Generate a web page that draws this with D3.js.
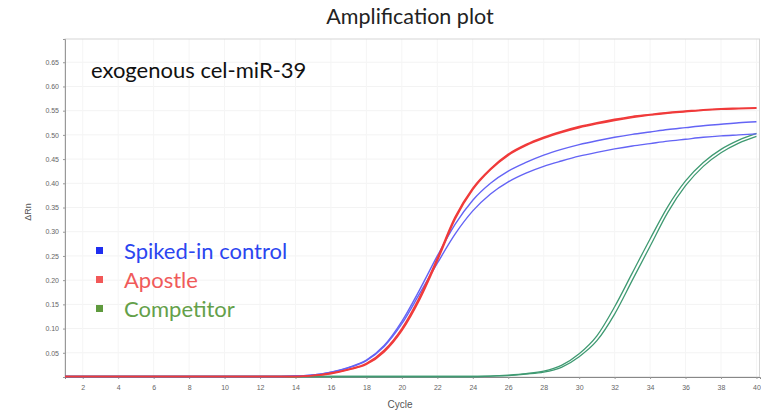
<!DOCTYPE html>
<html>
<head>
<meta charset="utf-8">
<script src="https://cdn.jsdelivr.net/npm/d3@7"></script>
<style>
  body { margin: 0; background: #fff; }
  svg { display: block; font-family: Lato, "Open Sans", sans-serif; }
  .tick text { fill: #666; font-size: 7px; font-family: "Liberation Sans", Arial, sans-serif; }
</style>
</head>
<body>
<svg id="chart" width="761" height="414"></svg>
<script>
const cycles = d3.range(1, 41);

// ΔRn per cycle (two replicates per sample)
const spikedA = [0.001,0.001,0.001,0.001,0.001,0.001,0.001,0.001,0.001,0.001,0.001,0.001,0.001,0.002,0.004,0.010,0.020,0.035,0.065,0.115,0.180,0.250,0.315,0.365,0.400,0.425,0.443,0.458,0.470,0.480,0.488,0.495,0.501,0.506,0.511,0.515,0.519,0.522,0.525,0.527];
const spikedB = [0.001,0.001,0.001,0.001,0.001,0.001,0.001,0.001,0.001,0.001,0.001,0.001,0.001,0.002,0.004,0.010,0.019,0.034,0.063,0.110,0.172,0.235,0.295,0.343,0.378,0.403,0.421,0.435,0.446,0.456,0.464,0.471,0.477,0.482,0.487,0.491,0.495,0.498,0.500,0.502];
const apostleA = [0.001,0.001,0.001,0.001,0.001,0.001,0.001,0.001,0.001,0.001,0.001,0.001,0.001,0.001,0.003,0.008,0.016,0.028,0.055,0.100,0.165,0.245,0.330,0.390,0.430,0.460,0.480,0.495,0.507,0.517,0.525,0.532,0.538,0.542,0.546,0.549,0.552,0.554,0.555,0.556];
const apostleB = [0.001,0.001,0.001,0.001,0.001,0.001,0.001,0.001,0.001,0.001,0.001,0.001,0.001,0.001,0.003,0.007,0.015,0.026,0.052,0.096,0.160,0.240,0.326,0.387,0.428,0.458,0.478,0.493,0.505,0.515,0.523,0.530,0.536,0.541,0.545,0.548,0.551,0.553,0.554,0.555];
const competitorA = [0.001,0.001,0.001,0.001,0.001,0.001,0.001,0.001,0.001,0.001,0.001,0.001,0.001,0.001,0.001,0.001,0.001,0.001,0.001,0.001,0.001,0.001,0.001,0.001,0.002,0.003,0.006,0.010,0.020,0.042,0.075,0.130,0.200,0.270,0.340,0.395,0.435,0.463,0.483,0.497];
const competitorB = [0.001,0.001,0.001,0.001,0.001,0.001,0.001,0.001,0.001,0.001,0.001,0.001,0.001,0.001,0.001,0.001,0.001,0.001,0.001,0.001,0.001,0.001,0.001,0.001,0.002,0.004,0.007,0.012,0.024,0.048,0.085,0.145,0.215,0.285,0.352,0.405,0.443,0.470,0.489,0.503];

const series = [
  { name: "Competitor", color: "#3f9a72", values: competitorA, width: 1.3 },
  { name: "Competitor", color: "#3f9a72", values: competitorB, width: 1.3 },
  { name: "Spiked-in control", color: "#6464f5", values: spikedA, width: 1.4 },
  { name: "Spiked-in control", color: "#6464f5", values: spikedB, width: 1.4 },
  { name: "Apostle", color: "#f03a3a", values: apostleA, width: 1.6 },
  { name: "Apostle", color: "#f03a3a", values: apostleB, width: 1.6 }
];

const legendItems = [
  { label: "Spiked-in control", swatch: "#1f2ef0", text: "#2b45f0" },
  { label: "Apostle", swatch: "#f25858", text: "#f05a5a" },
  { label: "Competitor", swatch: "#5f9a3e", text: "#64a04a" }
];

const xTicks = d3.range(2, 41, 2);
const yTicks = d3.range(1, 14).map(i => +(i * 0.05).toFixed(2));

const margin = { top: 39, right: 1, bottom: 37, left: 65 };
const width = 761, height = 414;

const svg = d3.select("#chart");

const x = d3.scaleLinear().domain([1, 40.2]).range([margin.left, width - margin.right]);
const y = d3.scaleLinear().domain([0, 0.698]).range([height - margin.bottom, margin.top]);

// faint grid
svg.append("g")
  .selectAll("line")
  .data(yTicks)
  .join("line")
  .attr("x1", margin.left).attr("x2", width - margin.right)
  .attr("y1", d => y(d)).attr("y2", d => y(d))
  .attr("stroke", "#f3f3f3");
svg.append("g")
  .selectAll("line")
  .data(xTicks)
  .join("line")
  .attr("y1", margin.top).attr("y2", height - margin.bottom)
  .attr("x1", d => x(d)).attr("x2", d => x(d))
  .attr("stroke", "#f5f5f5");

// frame
svg.append("rect")
  .attr("x", margin.left).attr("y", margin.top)
  .attr("width", width - margin.right - margin.left - 0.5)
  .attr("height", height - margin.bottom - margin.top)
  .attr("fill", "none").attr("stroke", "#d6d6d6");

const yAxis = svg.append("g")
  .attr("transform", `translate(${margin.left},0)`)
  .call(d3.axisLeft(y).tickValues(yTicks).tickFormat(d3.format(".2f")).tickSize(2).tickPadding(4));
yAxis.select(".domain").attr("stroke", "#999");
yAxis.selectAll(".tick line").attr("stroke", "#999");

const xAxis = svg.append("g")
  .attr("transform", `translate(0,${height - margin.bottom})`)
  .call(d3.axisBottom(x).tickValues(xTicks).tickSize(2).tickPadding(6));
xAxis.select(".domain").attr("stroke", "#888");
xAxis.selectAll(".tick line").attr("stroke", "#999");

// curves
const line = d3.line()
  .x((d, i) => x(cycles[i]))
  .y(d => y(d))
  .curve(d3.curveMonotoneX);

svg.append("g")
  .selectAll("path")
  .data(series)
  .join("path")
  .attr("d", d => line(d.values))
  .attr("fill", "none")
  .attr("stroke", d => d.color)
  .attr("stroke-width", d => d.width);

// titles
svg.append("text")
  .attr("x", 410).attr("y", 24)
  .attr("text-anchor", "middle")
  .attr("font-size", 21.5)
  .attr("fill", "#222")
  .text("Amplification plot");

svg.append("text")
  .attr("x", 400).attr("y", 408)
  .attr("text-anchor", "middle")
  .attr("font-size", 10)
  .attr("font-family", "Liberation Sans, Arial, sans-serif")
  .attr("fill", "#555")
  .text("Cycle");

svg.append("text")
  .attr("transform", "translate(31,212) rotate(-90)")
  .attr("text-anchor", "middle")
  .attr("font-size", 9)
  .attr("font-family", "Liberation Sans, Arial, sans-serif")
  .attr("fill", "#555")
  .text("ΔRn");

svg.append("text")
  .attr("x", 91).attr("y", 78)
  .attr("font-size", 22)
  .attr("fill", "#111")
  .text("exogenous cel-miR-39");

// legend
const legend = svg.append("g").attr("transform", "translate(96,251)");
const item = legend.selectAll("g")
  .data(legendItems)
  .join("g")
  .attr("transform", (d, i) => `translate(0,${i * 29})`);
item.append("rect")
  .attr("x", 0).attr("y", -4)
  .attr("width", 7).attr("height", 7)
  .attr("fill", d => d.swatch);
item.append("text")
  .attr("x", 28).attr("y", 8)
  .attr("font-size", 22)
  .attr("fill", d => d.text)
  .text(d => d.label);
</script>
</body>
</html>
